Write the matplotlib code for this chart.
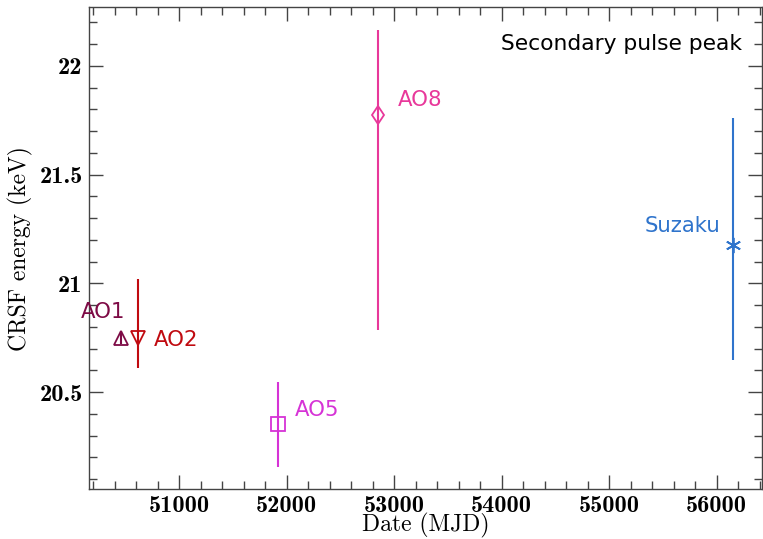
import os
import matplotlib as mpl
mpl.use("Agg")
import matplotlib.pyplot as plt
from matplotlib.font_manager import FontProperties
from matplotlib.ticker import MultipleLocator

# CRSF energy of the secondary pulse peak per observation
labels = ["AO1", "AO2", "AO5", "AO8", "Suzaku"]
mjd = [50460, 50616, 51921, 52851, 56153]
energy = [20.75, 20.75, 20.353, 21.775, 21.178]
err_lo = [0.03, 0.14, 0.20, 0.99, 0.53]
err_hi = [0.03, 0.27, 0.195, 0.39, 0.583]

markers = ["^", "v", "s", "d", (6, 2, 0)]
colors = ["#7d0a45", "#c00a10", "#d633d6", "#e8389a", "#2f74cc"]
# label offsets in pixels (dx, dy) and horizontal alignment
offsets = [(-18, 26, "center"), (16, -2, "left"), (17, 14, "left"),
           (20, 15, "left"), (-13, 19, "right")]

fontdir = os.path.join(mpl.get_data_path(), "fonts", "ttf")
cm_bold = FontProperties(fname=os.path.join(fontdir, "cmb10.ttf"), size=17.5)
cm_lab = FontProperties(fname=os.path.join(fontdir, "cmr10.ttf"), size=17)

fig = plt.figure(figsize=(7.63, 5.39), dpi=100)
ax = fig.add_axes([0.1166, 0.0928, 0.8821, 0.8937])

for i in range(len(labels)):
    ax.errorbar(mjd[i], energy[i], yerr=[[err_lo[i]], [err_hi[i]]],
                fmt="", marker=markers[i], linestyle="none", color=colors[i],
                ecolor=colors[i], mfc="none", mec=colors[i],
                ms=9.5 if i < 4 else 11, mew=1.3, elinewidth=1.5, capsize=0)
    dx, dy, ha = offsets[i]
    ax.annotate(labels[i], (mjd[i], energy[i]),
                xytext=(dx * 0.72, dy * 0.72), textcoords="offset points",
                ha=ha, va="center", color=colors[i], fontsize=15.3)

ax.text(0.970, 0.923, "Secondary pulse peak", transform=ax.transAxes,
        ha="right", va="center", fontsize=15.7)

ax.set_xlim(50161, 56421)
ax.set_ylim(20.054, 22.27)
ax.xaxis.set_major_locator(MultipleLocator(1000))
ax.xaxis.set_minor_locator(MultipleLocator(200))
ax.yaxis.set_major_locator(MultipleLocator(0.5))
ax.yaxis.set_minor_locator(MultipleLocator(0.1))
ax.set_yticks([20.5, 21, 21.5, 22])
ax.set_yticklabels(["20.5", "21", "21.5", "22"])

ax.tick_params(which="both", direction="in", top=True, right=True,
               color="#444444", width=1.0)
ax.tick_params(which="major", length=10)
ax.tick_params(which="minor", length=6)
ax.tick_params(axis="x", which="major", pad=4)
ax.tick_params(axis="y", which="major", pad=4.5)
for lab in ax.get_xticklabels() + ax.get_yticklabels():
    lab.set_fontproperties(cm_bold)
for sp in ax.spines.values():
    sp.set_color("#444444")
    sp.set_linewidth(1.0)

ax.set_xlabel("Date (MJD)", fontproperties=cm_lab, labelpad=-2.5)
ax.set_ylabel("CRSF energy (keV)", fontproperties=cm_lab, labelpad=4.5)

fig.savefig("out.png", dpi=100)
